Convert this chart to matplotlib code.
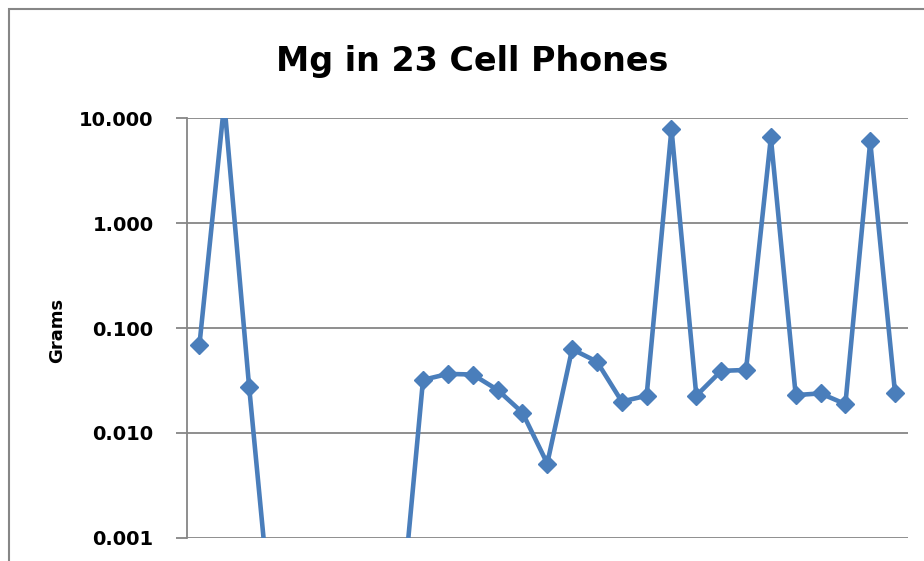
import matplotlib
matplotlib.use('Agg')
import matplotlib.pyplot as plt
from matplotlib.patches import Rectangle
from matplotlib.ticker import FixedLocator, FormatStrFormatter, NullLocator

# Mg content per phone sample (grams); samples 3-8 fall below the visible axis
phones = list(range(29))
grams = [0.069, 14.0, 0.0276, 0.00009, 0.00009, 0.00009, 0.00009, 0.00009, 0.00009,
         0.032, 0.0365, 0.0360, 0.0257, 0.0156, 0.0051, 0.0628, 0.0478, 0.0199,
         0.0226, 7.94, 0.0226, 0.039, 0.0398, 6.56, 0.0229, 0.0238, 0.0188, 6.01, 0.0238]
yticks = [0.001, 0.01, 0.1, 1, 10]

title = 'Mg in 23 Cell Phones'
ylabel = 'Grams'

blue = '#4a7ebb'
gray = '#868686'

fig = plt.figure(figsize=(9.24, 5.61), dpi=100)

# outer chart frame (cropped at right and bottom)
fig.patches.append(Rectangle((8.5 / 924, -0.1), 1.2, 1 - 8.5 / 561 + 0.1,
                             transform=fig.transFigure, fill=False,
                             edgecolor=gray, linewidth=1.5))

ax = fig.add_axes([187 / 924, 1 - 537.7 / 561, (907.5 - 187) / 924, (537.7 - 118.3) / 561])
ax.set_yscale('log')
ax.plot(phones, grams, color=blue, linewidth=3.3, marker='D', markersize=9,
        markerfacecolor=blue, markeredgecolor=blue)
ax.set_xlim(-0.5, 28.5)
ax.set_ylim(1e-3, 10)

ax.yaxis.set_major_locator(FixedLocator(yticks))
ax.yaxis.set_minor_locator(NullLocator())
ax.yaxis.set_major_formatter(FormatStrFormatter('%.3f'))
ax.xaxis.set_major_locator(NullLocator())
ax.xaxis.set_minor_locator(NullLocator())
ax.grid(axis='y', color=gray, linewidth=1.3)
ax.set_axisbelow(True)

for side in ['top', 'right', 'bottom']:
    ax.spines[side].set_visible(False)
ax.spines['left'].set_color(gray)
ax.spines['left'].set_linewidth(1.3)
ax.tick_params(axis='y', which='major', length=8, width=1.3, color=gray, pad=16,
               labelsize=14)
for lab in ax.get_yticklabels():
    lab.set_fontweight('bold')

fig.text(57 / 924, 1 - 330 / 561, ylabel, rotation=90, ha='center', va='center',
         fontsize=13, fontweight='bold')
fig.text(472 / 924, 1 - 70.7 / 561, title, ha='center', va='baseline',
         fontsize=24, fontweight='bold')

fig.savefig('out.png', dpi=100)
